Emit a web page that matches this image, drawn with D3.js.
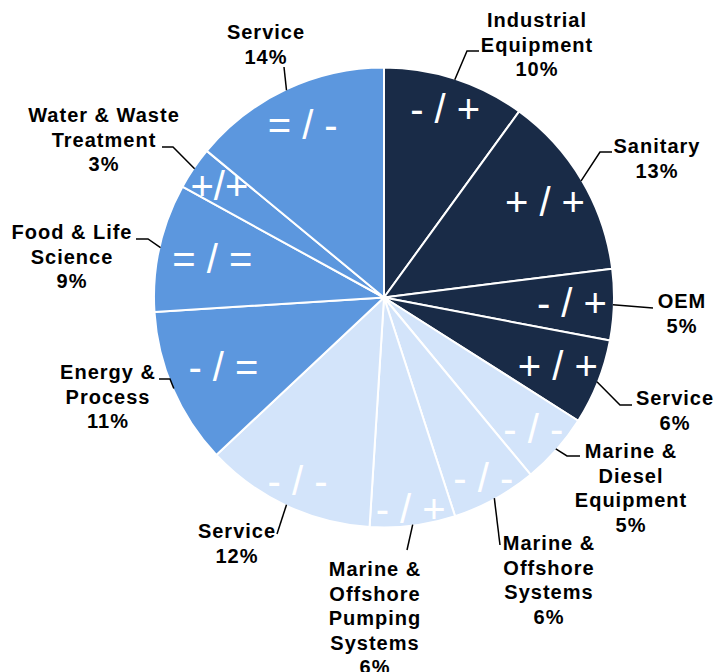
<!DOCTYPE html>
<html>
<head>
<meta charset="utf-8">
<script src="https://cdn.jsdelivr.net/npm/d3@7.9.0/dist/d3.min.js"></script>
<style>
  body { margin: 0; background: #fff; }
  svg { display: block; }
  .outer-label { font-family: "Liberation Sans", Arial, sans-serif; font-weight: bold; font-size: 20px; letter-spacing: 1px; fill: #000; }
  .inner-label { font-family: "Liberation Sans", Arial, sans-serif; font-size: 40px; fill: #fff; }
</style>
</head>
<body>
<div id="chart"></div>
<script>
// slice order: clockwise from 12 o'clock
const categories = [
  ["Industrial", "Equipment"],
  ["Sanitary"],
  ["OEM"],
  ["Service"],
  ["Marine &", "Diesel", "Equipment"],
  ["Marine &", "Offshore", "Systems"],
  ["Marine &", "Offshore", "Pumping", "Systems"],
  ["Service"],
  ["Energy &", "Process"],
  ["Food & Life", "Science"],
  ["Water & Waste", "Treatment"],
  ["Service"]
];
const shares = [10, 13, 5, 6, 5, 6, 6, 12, 11, 9, 3, 14];
const groups = [0, 0, 0, 0, 2, 2, 2, 2, 1, 1, 1, 1];
const trends = ["- / +", "+ / +", "- / +", "+ / +", "- / -", "- / -", "- / +", "- / -", "- / =", "= / =", "+/+", "= / -"];

const groupColors = ["#192B47", "#5C97DE", "#D3E4FA"];

// label layout (text centre + leader path)
const labelPos = [
  { x: 537, y: 20, leader: [[467, 51], [479, 51]] },
  { x: 657, y: 146, leader: [[600, 152], [612, 152]] },
  { x: 682, y: 301, leader: [[653, 308]] },
  { x: 675, y: 398, leader: [[620, 405], [632, 405]] },
  { x: 631, y: 451, leader: [[567, 456], [580, 456]] },
  { x: 549, y: 543, leader: [[500, 545]] },
  { x: 375, y: 569, leader: [[407, 550]] },
  { x: 237, y: 531, leader: [[277, 534]] },
  { x: 108, y: 372, leader: [[170, 379], [159, 379]] },
  { x: 72, y: 232, leader: [[148, 239], [136, 239]] },
  { x: 104, y: 115, leader: [[173, 147], [162, 147]] },
  { x: 266, y: 32, leader: [[284, 67]] }
];
const innerR = [198, 187, 188, 187, 199, 206, 213, 203, 175, 176, 199, 191];

const width = 717, height = 672;
const cx = 384, cy = 297.5, R = 230;
const lineH = 24.5;

const data = shares.map((v, i) => ({ lines: categories[i], value: v, group: groups[i], trend: trends[i] }));

const svg = d3.select("#chart").append("svg")
  .attr("width", width)
  .attr("height", height);

const g = svg.append("g").attr("transform", `translate(${cx},${cy})`);

const pie = d3.pie().sort(null).value(d => d.value);
const arc = d3.arc().innerRadius(0).outerRadius(R);
const arcs = pie(data);

g.selectAll("path.slice")
  .data(arcs)
  .enter()
  .append("path")
  .attr("class", "slice")
  .attr("d", arc)
  .attr("fill", d => groupColors[d.data.group])
  .attr("stroke", "#fff")
  .attr("stroke-width", 2)
  .attr("stroke-linejoin", "round");

// +/- labels inside the slices
g.selectAll("text.inner-label")
  .data(arcs)
  .enter()
  .append("text")
  .attr("class", "inner-label")
  .attr("text-anchor", "middle")
  .attr("dominant-baseline", "central")
  .attr("x", (d, i) => innerR[i] * Math.sin((d.startAngle + d.endAngle) / 2))
  .attr("y", (d, i) => -innerR[i] * Math.cos((d.startAngle + d.endAngle) / 2))
  .text(d => d.data.trend);

// leader lines
const edgeArc = d3.arc().innerRadius(R - 1).outerRadius(R - 1);
const line = d3.line();
svg.selectAll("path.leader")
  .data(arcs)
  .enter()
  .append("path")
  .attr("class", "leader")
  .attr("fill", "none")
  .attr("stroke", "#000")
  .attr("stroke-width", 1.5)
  .attr("d", (d, i) => {
    const [sx, sy] = edgeArc.centroid(d);
    return line([[cx + sx, cy + sy], ...labelPos[i].leader]);
  });

// outer labels
const labels = svg.selectAll("text.outer-label")
  .data(arcs)
  .enter()
  .append("text")
  .attr("class", "outer-label")
  .attr("text-anchor", "middle");

labels.each(function (d, i) {
  const t = d3.select(this);
  const lines = d.data.lines.concat([d.data.value + "%"]);
  lines.forEach((s, k) => {
    t.append("tspan")
      .attr("x", labelPos[i].x)
      .attr("y", labelPos[i].y + k * lineH + 7)
      .text(s);
  });
});
</script>
</body>
</html>
